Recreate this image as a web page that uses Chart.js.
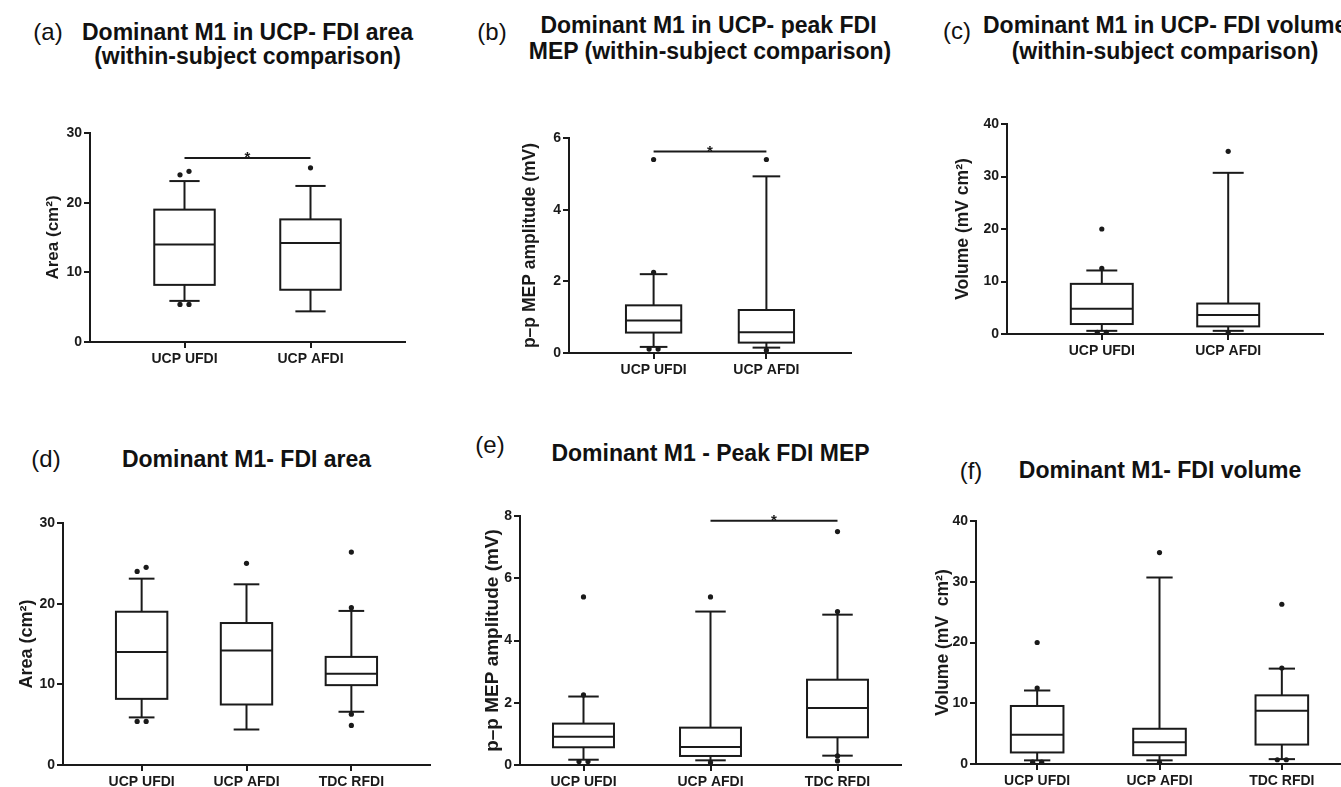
<!DOCTYPE html>
<html>
<head>
<meta charset="utf-8">
<script src="https://cdn.jsdelivr.net/npm/chart.js@4.4.1/dist/chart.umd.min.js"></script>
<style>
  html, body { margin: 0; padding: 0; background: #fff; }
  body { position: relative; width: 1341px; height: 787px; overflow: hidden; font-family: "Liberation Sans", Arial, Helvetica, sans-serif; }
  canvas { position: absolute; }
  .txt { position: absolute; white-space: nowrap; line-height: 1; color: #111; transform: translate(-50%, -50%); }
  .ttl { font-weight: bold; font-size: 23px; }
  .lbl { font-size: 24px; }
</style>
</head>
<body>
<script>
// groups on the x axis
const categories = ["UCP UFDI", "UCP AFDI", "TDC RFDI"];

// FDI area (cm2): whisker low, Q1, median, Q3, whisker high, outliers
const areaLow = [5.9, 4.4, 6.6];
const areaQ1 = [8.2, 7.5, 9.9];
const areaMedian = [14.0, 14.2, 11.3];
const areaQ3 = [19.0, 17.6, 13.4];
const areaHigh = [23.1, 22.4, 19.1];
const areaOutliers = [[5.4, 5.4, 24.0, 24.5], [25.0], [4.9, 6.3, 19.5, 26.4]];

// peak FDI MEP (mV)
const mepLow = [0.17, 0.15, 0.3];
const mepQ1 = [0.57, 0.29, 0.89];
const mepMedian = [0.91, 0.58, 1.83];
const mepQ3 = [1.33, 1.2, 2.74];
const mepHigh = [2.2, 4.93, 4.83];
const mepOutliers = [[0.11, 0.11, 2.25, 5.4], [0.08, 5.4], [0.13, 0.29, 4.93, 7.5]];

// FDI volume (mV cm2)
const volLow = [0.6, 0.6, 0.8];
const volQ1 = [1.9, 1.45, 3.2];
const volMedian = [4.8, 3.6, 8.75];
const volQ3 = [9.55, 5.8, 11.3];
const volHigh = [12.1, 30.7, 15.7];
const volOutliers = [[0.3, 0.3, 12.5, 20.0], [0.25, 34.8], [0.7, 0.7, 15.8, 26.3]];

// y tick labels
const areaTicks = [0, 10, 20, 30];
const mepTicksWithin = [0, 2, 4, 6];
const mepTicks = [0, 2, 4, 6, 8];
const volTicks = [0, 10, 20, 30, 40];

const ink = "#1a1a1a";
Chart.defaults.font.family = '"Liberation Sans", Arial, Helvetica, sans-serif';
Chart.defaults.color = ink;

// box plot drawn from the arrays through the chart scales
const boxPlot = {
  id: "boxPlot",
  afterDatasetsDraw(chart, args, o) {
    const { ctx } = chart;
    const x = chart.scales.x, y = chart.scales.y;
    const step = x.getPixelForValue(1) - x.getPixelForValue(0);
    const half = (step * o.boxWidth) / 2;
    const cap = half * 0.5;
    const line = (x1, y1, x2, y2) => {
      ctx.beginPath();
      ctx.moveTo(x1, y1);
      ctx.lineTo(x2, y2);
      ctx.stroke();
    };
    ctx.save();
    ctx.strokeStyle = ink;
    ctx.fillStyle = ink;
    ctx.lineWidth = 2;
    for (let i = 0; i < o.n; i++) {
      const cx = x.getPixelForValue(i);
      const lo = y.getPixelForValue(o.low[i]);
      const q1 = y.getPixelForValue(o.q1[i]);
      const md = y.getPixelForValue(o.median[i]);
      const q3 = y.getPixelForValue(o.q3[i]);
      const hi = y.getPixelForValue(o.high[i]);
      ctx.strokeRect(cx - half, q3, half * 2, q1 - q3);
      line(cx - half, md, cx + half, md);
      line(cx, q3, cx, hi);
      line(cx - cap, hi, cx + cap, hi);
      line(cx, q1, cx, lo);
      line(cx - cap, lo, cx + cap, lo);

      // outliers, neighbours that touch are set side by side
      const pts = o.outliers[i].map((v) => y.getPixelForValue(v)).sort((a, b) => b - a);
      const groups = [];
      pts.forEach((p) => {
        const g = groups[groups.length - 1];
        if (g && Math.abs(g[g.length - 1] - p) < 4.5) g.push(p);
        else groups.push([p]);
      });
      groups.forEach((g) =>
        g.forEach((p, k) => {
          ctx.beginPath();
          ctx.arc(cx + (k - (g.length - 1) / 2) * 9, p, 2.6, 0, Math.PI * 2);
          ctx.fill();
        })
      );
    }
    if (o.sig) {
      const ys = y.getPixelForValue(o.sig.value);
      const x1 = x.getPixelForValue(o.sig.from);
      const x2 = x.getPixelForValue(o.sig.to);
      line(x1, ys, x2, ys);
      ctx.font = "bold 15px " + Chart.defaults.font.family;
      ctx.textAlign = "center";
      ctx.textBaseline = "alphabetic";
      ctx.fillText("*", (x1 + x2) / 2, ys + 4);
    }
    ctx.restore();
  },
};

const yW = 65, padTop = 20, padRight = 10, xH = 36;

const makePanel = (p) => {
  const cats = categories.slice(0, p.n);
  const cv = document.createElement("canvas");
  const w = p.right - p.left + yW + padRight;
  const h = p.bottom - p.top + padTop + xH;
  cv.width = w;
  cv.height = h;
  cv.style.left = p.left - yW + "px";
  cv.style.top = p.top - padTop + "px";
  document.body.appendChild(cv);

  new Chart(cv, {
    type: "scatter",
    data: { datasets: [] },
    options: {
      responsive: false,
      animation: false,
      devicePixelRatio: 1,
      layout: { padding: { top: padTop, right: padRight, left: 0, bottom: 0 } },
      plugins: {
        legend: { display: false },
        tooltip: { enabled: false },
        boxPlot: {
          n: p.n,
          low: p.low, q1: p.q1, median: p.median, q3: p.q3, high: p.high,
          outliers: p.outliers,
          boxWidth: p.boxWidth,
          sig: p.sig,
        },
      },
      scales: {
        x: {
          type: "linear",
          min: p.xMin,
          max: p.n - 1 - p.xMin,
          afterFit: (s) => { s.height = xH; },
          afterBuildTicks: (s) => { s.ticks = cats.map((c, i) => ({ value: i })); },
          ticks: {
            callback: (v) => cats[v],
            font: { size: 14, weight: "bold" },
            color: ink,
            padding: 3,
            maxRotation: 0,
            autoSkip: false,
          },
          grid: { drawOnChartArea: false, drawTicks: true, tickLength: 6, color: ink, lineWidth: 2 },
          border: { color: ink, width: 2 },
        },
        y: {
          min: 0,
          max: p.yTicks[p.yTicks.length - 1],
          afterFit: (s) => { s.width = yW; },
          afterBuildTicks: (s) => { s.ticks = p.yTicks.map((v) => ({ value: v })); },
          ticks: { font: { size: 14, weight: "bold" }, color: ink, padding: 2 },
          title: {
            display: true,
            text: p.yTitle,
            color: ink,
            font: { size: p.yTitleSize, weight: "bold" },
            padding: { top: yW - p.yTitleDist - p.yTitleSize * 0.6, bottom: 0 },
          },
          grid: { drawOnChartArea: false, drawTicks: true, tickLength: 6, color: ink, lineWidth: 2 },
          border: { color: ink, width: 2 },
        },
      },
    },
    plugins: [boxPlot],
  });
};

const addText = (text, cx, cy, cls, extra) => {
  const d = document.createElement("div");
  d.className = "txt " + cls;
  d.textContent = text;
  d.style.left = cx + "px";
  d.style.top = cy + "px";
  if (extra) Object.assign(d.style, extra);
  document.body.appendChild(d);
};

const areaSet = { low: areaLow, q1: areaQ1, median: areaMedian, q3: areaQ3, high: areaHigh, outliers: areaOutliers };
const mepSet = { low: mepLow, q1: mepQ1, median: mepMedian, q3: mepQ3, high: mepHigh, outliers: mepOutliers };
const volSet = { low: volLow, q1: volQ1, median: volMedian, q3: volQ3, high: volHigh, outliers: volOutliers };

// (a)
makePanel({ ...areaSet, n: 2, xMin: -0.75, left: 90, right: 405, top: 133, bottom: 342,
  yTicks: areaTicks, yTitle: "Area (cm²)", yTitleSize: 17, yTitleDist: 37, boxWidth: 0.48,
  sig: { from: 0, to: 1, value: 26.4 } });
// (b)
makePanel({ ...mepSet, n: 2, xMin: -0.75, left: 569, right: 851, top: 138, bottom: 353,
  yTicks: mepTicksWithin, yTitle: "p–p MEP amplitude (mV)", yTitleSize: 17.5, yTitleDist: 39, boxWidth: 0.49,
  sig: { from: 0, to: 1, value: 5.62 } });
// (c)
makePanel({ ...volSet, n: 2, xMin: -0.75, left: 1007, right: 1323, top: 124, bottom: 334,
  yTicks: volTicks, yTitle: "Volume (mV cm²)", yTitleSize: 17.5, yTitleDist: 44, boxWidth: 0.49 });
// (d)
makePanel({ ...areaSet, n: 3, xMin: -0.75, left: 63, right: 430, top: 523, bottom: 765,
  yTicks: areaTicks, yTitle: "Area (cm²)", yTitleSize: 18, yTitleDist: 36, boxWidth: 0.49 });
// (e)
makePanel({ ...mepSet, n: 3, xMin: -0.5, left: 520, right: 901, top: 516, bottom: 765,
  yTicks: mepTicks, yTitle: "p–p MEP amplitude (mV)", yTitleSize: 19, yTitleDist: 27, boxWidth: 0.48,
  sig: { from: 1, to: 2, value: 7.85 } });
// (f)
makePanel({ ...volSet, n: 3, xMin: -0.5, left: 976, right: 1343, top: 521, bottom: 764,
  yTicks: volTicks, yTitle: "Volume (mV  cm²)", yTitleSize: 17.5, yTitleDist: 33, boxWidth: 0.43 });

// panel letters and titles
addText("(a)", 48, 32, "lbl");
addText("Dominant M1 in UCP- FDI area", 247.5, 31.5, "ttl");
addText("(within-subject comparison)", 247.5, 56, "ttl");
addText("(b)", 492, 32, "lbl");
addText("Dominant M1 in UCP- peak FDI", 708.5, 25, "ttl");
addText("MEP (within-subject comparison)", 710, 51, "ttl");
addText("(c)", 957, 31, "lbl");
addText("Dominant M1 in UCP- FDI volume", 983, 25, "ttl", { transform: "translate(0, -50%)" });
addText("(within-subject comparison)", 1165, 51, "ttl");
addText("(d)", 46, 459, "lbl");
addText("Dominant M1- FDI area", 246.5, 459, "ttl");
addText("(e)", 490, 445, "lbl");
addText("Dominant M1 - Peak FDI MEP", 710.5, 453, "ttl");
addText("(f)", 971, 471, "lbl");
addText("Dominant M1- FDI volume", 1160, 470, "ttl");
</script>
</body>
</html>
